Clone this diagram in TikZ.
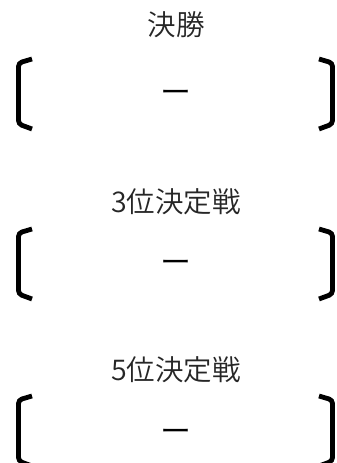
\documentclass[tikz,border=0pt]{standalone}
\usepackage{fontspec}
\IfFontExistsTF{Noto Sans CJK JP DemiLight}
  {\newfontfamily\jp{Noto Sans CJK JP DemiLight}}
  {\newfontfamily\jp{Noto Sans CJK JP}}
\tikzset{
  brk/.style={line width=4.8pt, rounded corners=3.5pt, black},
  ttl/.style={font=\jp\fontsize{28.5}{32}\selectfont, text=black!85, inner sep=0pt},
  dsh/.style={font=\jp\fontsize{31}{34}\selectfont, text=black, inner sep=0pt}
}
\begin{document}
\begin{tikzpicture}[x=1pt,y=-1pt]
\useasboundingbox (0,0) rectangle (337,463);
% group 1
\node[ttl] (t1) at (176,25) {決勝};
\node[dsh] (d1) at (176,97) {ー};
\draw[brk] (32,59) -- (18.5,63) -- (18.5,124) -- (32,129);
\draw[brk] (319,59) -- (332.5,63) -- (332.5,124) -- (319,129);
% group 2
\node[ttl] (t2) at (176,202) {3位決定戦};
\node[dsh] (d2) at (176,267) {ー};
\draw[brk] (32,229) -- (18.5,233) -- (18.5,294) -- (32,299);
\draw[brk] (319,229) -- (332.5,233) -- (332.5,294) -- (319,299);
% group 3
\node[ttl] (t3) at (176,370) {5位決定戦};
\node[dsh] (d3) at (176,436) {ー};
\draw[brk] (32,396) -- (18.5,400) -- (18.5,461) -- (32,466);
\draw[brk] (319,396) -- (332.5,400) -- (332.5,461) -- (319,466);
\end{tikzpicture}
\end{document}
